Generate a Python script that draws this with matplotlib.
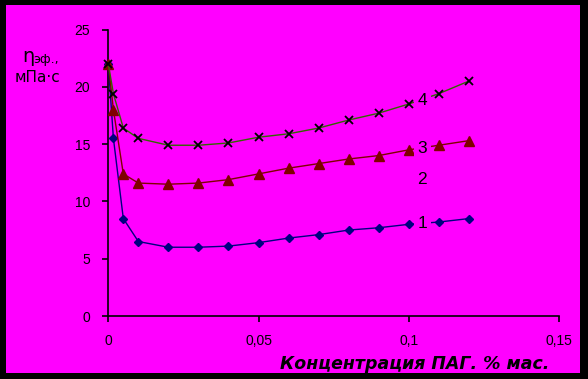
import matplotlib
matplotlib.use("Agg")
import matplotlib.pyplot as plt
from matplotlib.patches import Rectangle
from matplotlib.ticker import FuncFormatter

# Data (concentration of PAG, % mass) and effective viscosity, mPa*s
conc = [0, 0.0017, 0.005, 0.01, 0.02, 0.03, 0.04, 0.05, 0.06, 0.07, 0.08, 0.09, 0.10, 0.11, 0.12]
visc_1 = [22.0, 15.5, 8.5, 6.5, 6.0, 6.0, 6.1, 6.4, 6.8, 7.1, 7.5, 7.7, 8.0, 8.2, 8.5]
visc_3 = [22.0, 18.0, 12.4, 11.6, 11.5, 11.6, 11.9, 12.4, 12.9, 13.3, 13.7, 14.0, 14.5, 14.9, 15.3]
visc_4 = [22.0, 19.4, 16.4, 15.5, 14.9, 14.9, 15.1, 15.6, 15.9, 16.4, 17.1, 17.7, 18.5, 19.4, 20.5]

curve_labels = ["1", "2", "3", "4"]
label_x = [0.1045, 0.1045, 0.1045, 0.1045]
label_y = [8.1, 11.9, 14.6, 18.8]

xticks = [0, 0.05, 0.10, 0.15]
yticks = [0, 5, 10, 15, 20, 25]

W, H = 588, 379
MAG = "#FF00FF"
fig = plt.figure(figsize=(W / 100, H / 100), dpi=100, facecolor="black")
fig.patches.append(Rectangle((6 / W, 1 - 373.3 / H), (580 - 6) / W, (373.3 - 5) / H,
                             transform=fig.transFigure, facecolor=MAG, edgecolor="none",
                             zorder=-10))

x0, x1 = 108.3, 559.0
y0, y1 = 316.0, 29.5
ax = fig.add_axes([x0 / W, 1 - y0 / H, (x1 - x0) / W, (y0 - y1) / H])
ax.set_zorder(5)
ax.set_facecolor("none")
ax.set_xlim(0, 0.15)
ax.set_ylim(0, 25)
for s in ["top", "right"]:
    ax.spines[s].set_visible(False)
for s in ["left", "bottom"]:
    ax.spines[s].set_color("black")
    ax.spines[s].set_linewidth(1.2)

ax.set_xticks(xticks)
ax.set_yticks(yticks)
ax.xaxis.set_major_formatter(FuncFormatter(lambda v, p: ("%g" % v).replace(".", ",")))
ax.tick_params(axis="both", direction="out", length=4, width=1.2, color="black",
               labelsize=10, labelcolor="black")
ax.tick_params(axis="y", pad=9)
ax.tick_params(axis="x", pad=9)
for lab in ax.get_xticklabels() + ax.get_yticklabels():
    lab.set_family("Liberation Sans")

ax.plot(conc, visc_1, color="#000080", lw=1.0, marker="D", ms=4.5,
        mfc="#000080", mec="#000080", zorder=3, clip_on=False)
ax.plot(conc, visc_3, color="#800000", lw=1.0, marker="^", ms=6.5,
        mfc="#800000", mec="#800000", zorder=3, clip_on=False)
ax.plot(conc, visc_4, color="#336600", lw=1.0, marker="x", ms=6,
        mfc="black", mec="black", mew=1.3, zorder=3, clip_on=False)

for t, lx, ly in zip(curve_labels, label_x, label_y):
    ax.text(lx, ly, t, fontsize=12.5, family="Liberation Sans", color="black",
            ha="center", va="center", zorder=5,
            bbox=dict(facecolor=MAG, edgecolor="none", pad=2.5))

# y-axis label
fig.text(22 / W, 1 - 57 / H, "η", fontsize=14, family="DejaVu Sans",
         ha="left", va="center", color="black")
fig.text(33 / W, 1 - 60 / H, "эф.,", fontsize=9, family="DejaVu Sans",
         ha="left", va="center", color="black")
fig.text(15 / W, 1 - 78 / H, "мПа·с", fontsize=11, family="DejaVu Sans",
         ha="left", va="center", color="black")

# x-axis label
fig.text(415 / W, 1 - 364 / H, "Концентрация ПАГ. % мас.", fontsize=12.5,
         family="DejaVu Sans", weight="bold", style="italic",
         ha="center", va="center", color="black")

fig.savefig("out.png", dpi=100, facecolor=fig.get_facecolor())
